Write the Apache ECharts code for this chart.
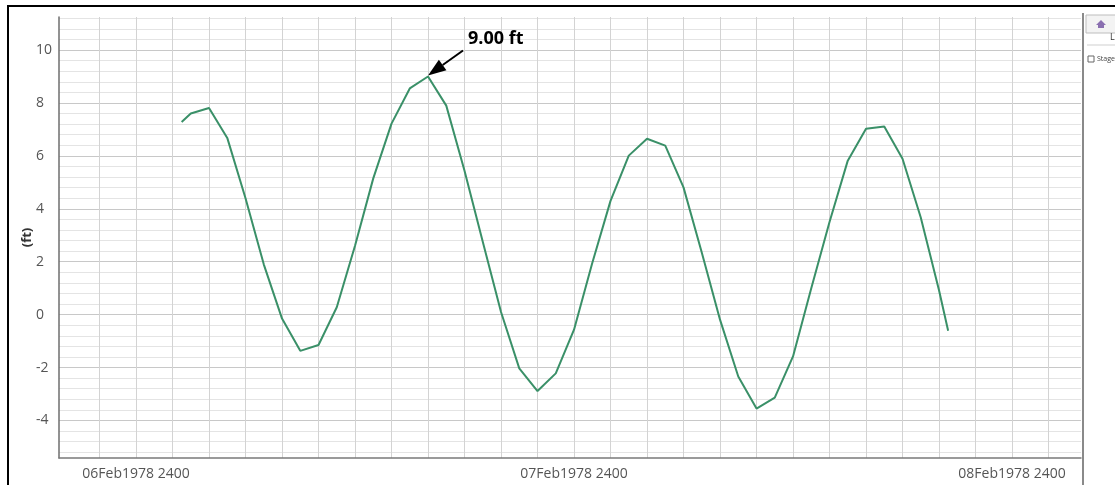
<!DOCTYPE html>
<html><head><meta charset="utf-8">
<style>html,body{margin:0;padding:0;background:#fff;}#c{width:1115px;height:485px;}</style>
<script src="https://cdn.jsdelivr.net/npm/echarts@6/dist/echarts.min.js"></script>
</head><body><div id="c"></div>
<script>
// hours after 06Feb1978 2400
const hours = [2.5,3,4,5,6,7,8,9,10,11,12,13,14,15,16,17,18,19,20,21,22,23,24,25,26,27,28,29,30,31,32,33,34,35,36,37,38,39,40,41,42,43,44,44.5];
const stage = [7.28,7.60,7.81,6.68,4.40,1.90,-0.15,-1.37,-1.15,0.28,2.60,5.15,7.22,8.55,9.00,7.90,5.44,2.75,0.10,-2.03,-2.89,-2.22,-0.57,1.95,4.30,6.01,6.65,6.39,4.81,2.35,-0.19,-2.34,-3.55,-3.14,-1.58,1.00,3.50,5.82,7.03,7.11,5.89,3.67,0.92,-0.61];
const xLabelValues = [0,24,48];
const xLabels = ['06Feb1978 2400','07Feb1978 2400','08Feb1978 2400'];
const xGridValues = [-2,0,2,4,6,8,10,12,14,16,18,20,22,24,26,28,30,32,34,36,38,40,42,44,46,48,50];
const yLabelValues = [-4,-2,0,2,4,6,8,10];
const yMinorStep = 0.4;
const xRange = [-4.22, 51.78];
const yRange = [-5.42, 11.25];
const unit = 'ft';

const yMinorValues = [];
for (let k = Math.ceil(yRange[0]/yMinorStep); k*yMinorStep <= yRange[1]; k++) {
  const v = Math.round(k*yMinorStep*10)/10;
  if (yLabelValues.indexOf(v) < 0 && Math.abs(v % 2) > 1e-6) yMinorValues.push(v);
}

const chart = echarts.init(document.getElementById('c'));
const labelFont = 'Open Sans';
chart.setOption({
  animation: false,
  backgroundColor: '#fff',
  grid: {left: 59, top: 17, right: 34, bottom: 27, containLabel: false},
  xAxis: {
    type: 'value', min: xRange[0], max: xRange[1],
    axisLine: {show: true, onZero: false, lineStyle: {color: '#7a7a7a', width: 1.5}},
    axisTick: {show: false, customValues: xGridValues},
    axisLabel: {customValues: xLabelValues, formatter: v => xLabels[xLabelValues.indexOf(v)] || '',
      color: '#555', fontSize: 14, fontFamily: labelFont, margin: 9},
    splitLine: {show: true, lineStyle: {color: '#d3d3d3', width: 1}}
  },
  yAxis: [{
    type: 'value', min: yRange[0], max: yRange[1], position: 'left',
    axisLine: {show: true, onZero: false, lineStyle: {color: '#6e6e6e', width: 1.5}},
    axisTick: {show: false, customValues: yLabelValues},
    axisLabel: {customValues: yLabelValues, align: 'left', margin: 23, color: '#555', fontSize: 14, fontFamily: labelFont},
    splitLine: {show: true, lineStyle: {color: '#c8c8c8', width: 1}},
    name: '(' + unit + ')', nameLocation: 'middle', nameGap: 25, nameMoveOverlap: false,
    nameTextStyle: {fontWeight: 'bold', fontSize: 13, color: '#333', fontFamily: labelFont}
  }, {
    type: 'value', min: yRange[0], max: yRange[1], position: 'left',
    axisLine: {show: false, onZero: false}, axisLabel: {show: false},
    axisTick: {show: false, customValues: yMinorValues},
    splitLine: {show: true, lineStyle: {color: '#e4e4e4', width: 1}}
  }],
  series: [{
    type: 'line', xAxisIndex: 0, yAxisIndex: 0, showSymbol: false, symbol: 'none',
    data: hours.map((h, i) => [h, stage[i]]),
    lineStyle: {color: '#3a9068', width: 2}, z: 5
  }],
  graphic: [
    {id: 'frame', type: 'rect', shape: {x: 8, y: 6, width: 1130, height: 510}, style: {fill: 'none', stroke: '#000', lineWidth: 2}, silent: true},
    {id: 'sep', type: 'line', shape: {x1: 1083, y1: 13, x2: 1083, y2: 485}, style: {stroke: '#8a8a8a', lineWidth: 2}, silent: true},
    {id: 'btn', type: 'rect', shape: {x: 1086, y: 15, width: 30, height: 18}, style: {fill: '#f3f3f3', stroke: '#bdbdbd', lineWidth: 1}, silent: true},
    {id: 'home', type: 'polygon', shape: {points: [[1096,25],[1101,20],[1106,25],[1104,25],[1104,28],[1098,28],[1098,25]]}, style: {fill: '#8a6fb0'}, silent: true},
    {id: 'tabL', type: 'text', x: 1110, y: 33, style: {text: 'L', fontSize: 9, fill: '#333', fontFamily: labelFont}, silent: true},
    {id: 'sep2', type: 'line', shape: {x1: 1087, y1: 45, x2: 1115, y2: 45}, style: {stroke: '#cfcfcf', lineWidth: 1}, silent: true},
    {id: 'chk', type: 'rect', shape: {x: 1088, y: 56, width: 6, height: 6}, style: {fill: '#fff', stroke: '#666', lineWidth: 1}, silent: true},
    {id: 'chkTxt', type: 'text', x: 1097, y: 55, style: {text: 'Stage', fontSize: 7, fill: '#444', fontFamily: labelFont}, silent: true}
  ]
});

// annotation at the maximum
let iMax = 0;
stage.forEach((v, i) => { if (v > stage[iMax]) iMax = i; });
const p = chart.convertToPixel({xAxisIndex: 0, yAxisIndex: 0}, [hours[iMax], stage[iMax]]);
const tip = [p[0], p[1] - 1];
const start = [tip[0] + 35, tip[1] - 25];
const dx = start[0] - tip[0], dy = start[1] - tip[1];
const L = Math.hypot(dx, dy);
const ux = dx / L, uy = dy / L;
const headLen = 18, headHalf = 6.5;
const base = [tip[0] + ux * headLen, tip[1] + uy * headLen];
const nx = -uy, ny = ux;
chart.setOption({
  graphic: [
    {id: 'arrLine', type: 'line', shape: {x1: start[0], y1: start[1], x2: base[0], y2: base[1]}, style: {stroke: '#000', lineWidth: 2}, z: 100, silent: true},
    {id: 'arrHead', type: 'polygon', shape: {points: [tip, [base[0] + nx*headHalf, base[1] + ny*headHalf], [base[0] - nx*headHalf, base[1] - ny*headHalf]]}, style: {fill: '#000'}, z: 100, silent: true},
    {id: 'arrTxt', type: 'text', x: tip[0] + 40, y: tip[1] - 37, style: {text: stage[iMax].toFixed(2) + ' ' + unit, fontSize: 18, fontWeight: 'bold', fill: '#000', fontFamily: labelFont, verticalAlign: 'middle'}, z: 100, silent: true}
  ]
});
</script>
</body></html>
